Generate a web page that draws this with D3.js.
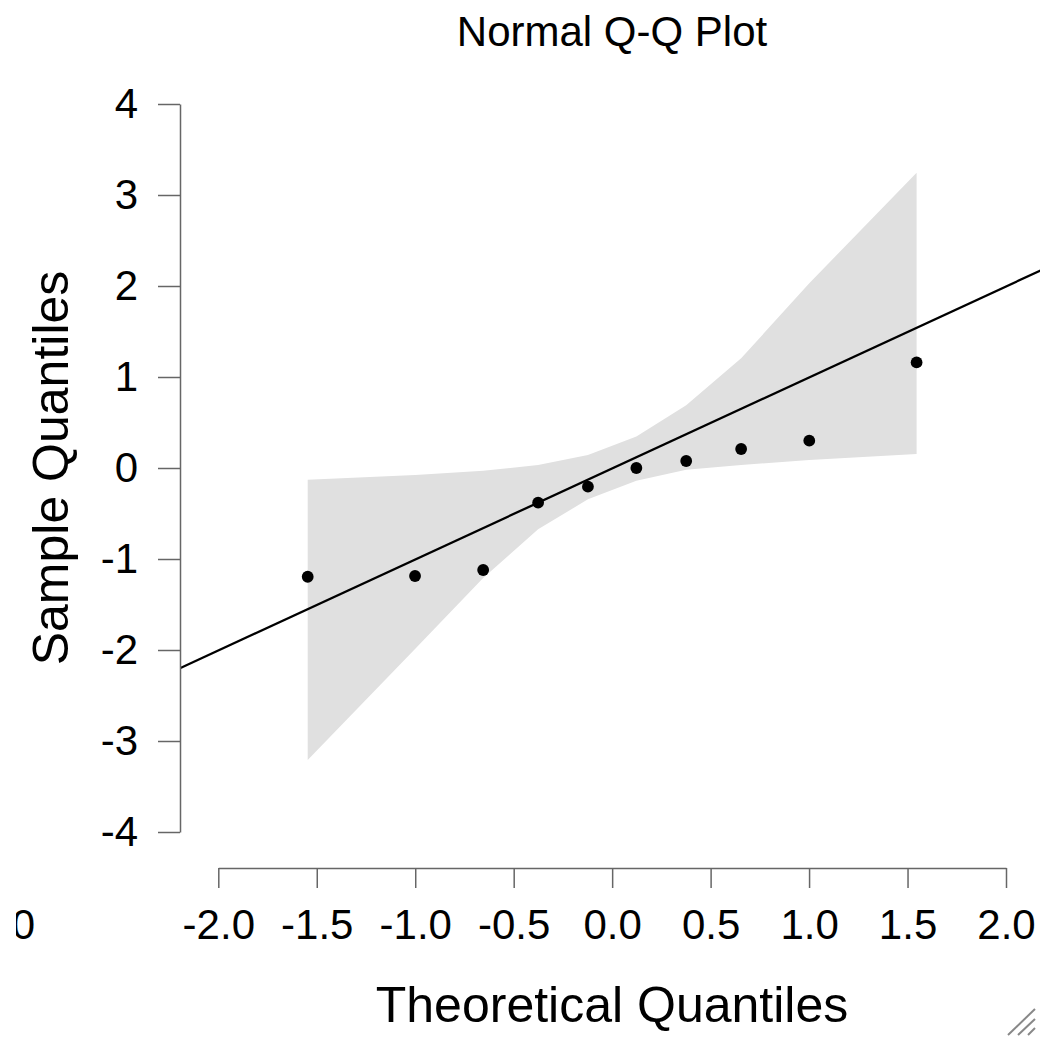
<!DOCTYPE html>
<meta charset="utf-8">
<script src="https://d3js.org/d3.v7.min.js"></script>
<style>
  body { margin: 0; background: #fff; }
  text { font-family: "Liberation Sans", Arial, Helvetica, sans-serif; }
</style>
<div id="my_dataviz"></div>
<script>

// theoretical quantiles (x) and sample quantiles (y)
var theoretical = [-1.546, -1.001, -0.655, -0.376, -0.123, 0.123, 0.376, 0.655, 1.001, 1.546];
var sample      = [-1.195, -1.187, -1.121, -0.381, -0.205, 0.0, 0.077, 0.209, 0.30, 1.16];

// confidence band around the reference line
var bandUpper = [-0.13, -0.077, -0.03, 0.033, 0.143, 0.345, 0.69, 1.205, 2.03, 3.245];
var bandLower = [-3.21, -1.99, -1.21, -0.674, -0.344, -0.14, -0.02, 0.033, 0.088, 0.154];

// reference line y = a + b*x
var lineIntercept = -0.005;
var lineSlope = 1.0;

var xTicks = [-2.0, -1.5, -1.0, -0.5, 0.0, 0.5, 1.0, 1.5, 2.0];
var yTicks = [-4, -3, -2, -1, 0, 1, 2, 3, 4];
var xDomainPlot = [-2.195, 2.2];   // x extent of plot region (line is clipped to it)

var width = 1040, height = 1037;

var svg = d3.select("#my_dataviz")
  .append("svg")
    .attr("width", width)
    .attr("height", height);

var x = d3.scaleLinear().domain([-2, 2]).range([218.3, 1006]);
var y = d3.scaleLinear().domain([-4, 4]).range([832, 104]);

// clip for the plot region
svg.append("clipPath").attr("id", "plotclip")
  .append("rect")
    .attr("x", x(xDomainPlot[0]))
    .attr("y", 60)
    .attr("width", x(xDomainPlot[1]) - x(xDomainPlot[0]))
    .attr("height", 800);

var plot = svg.append("g").attr("clip-path", "url(#plotclip)");

// band
var bandData = theoretical.map(function(t, i) { return {t: t, lo: bandLower[i], hi: bandUpper[i]}; });
plot.append("path")
  .datum(bandData)
  .attr("d", d3.area()
    .x(function(d) { return x(d.t) })
    .y0(function(d) { return y(d.lo) })
    .y1(function(d) { return y(d.hi) }))
  .style("fill", "#e0e0e0")
  .style("stroke", "none");

// reference line
plot.append("path")
  .datum(xDomainPlot)
  .attr("d", d3.line()
    .x(function(d) { return x(d) })
    .y(function(d) { return y(lineIntercept + lineSlope * d) }))
  .style("stroke", "#000")
  .style("stroke-width", 2.3)
  .style("fill", "none");

// points
plot.selectAll("circle.pt")
  .data(theoretical)
  .enter()
  .append("circle")
    .attr("class", "pt")
    .attr("cx", function(d) { return x(d) })
    .attr("cy", function(d, i) { return y(sample[i]) })
    .attr("r", 5.9)
    .style("fill", "#000");

// x axis
var xAxis = svg.append("g")
  .attr("transform", "translate(0,868)")
  .call(d3.axisBottom(x).tickValues(xTicks).tickFormat(function(d) { return d.toFixed(1) })
    .tickSize(20).tickSizeOuter(0).tickPadding(21));

// y axis
var yAxis = svg.append("g")
  .attr("transform", "translate(180,0)")
  .call(d3.axisLeft(y).tickValues(yTicks).tickFormat(function(d) { return String(d) })
    .tickSize(22).tickSizeOuter(0).tickPadding(20));

[xAxis, yAxis].forEach(function(a) {
  a.select(".domain").style("stroke", "#666").style("stroke-width", 1.5);
  a.selectAll(".tick line").style("stroke", "#666").style("stroke-width", 1.5);
  a.selectAll(".tick text")
    .style("font-size", "42px")
    .style("font-family", "'Liberation Sans', Arial, sans-serif")
    .style("fill", "#000");
});

// stray clipped label at the left edge
svg.append("clipPath").attr("id", "edgeclip")
  .append("rect").attr("x", 16).attr("y", 880).attr("width", 40).attr("height", 80);
svg.append("text")
  .attr("clip-path", "url(#edgeclip)")
  .attr("x", 35).attr("y", 939)
  .attr("text-anchor", "end")
  .style("font-size", "42px")
  .text("0");

// title and axis labels
svg.append("text")
  .attr("x", 612).attr("y", 46)
  .attr("text-anchor", "middle")
  .style("font-size", "42px")
  .text("Normal Q-Q Plot");

svg.append("text")
  .attr("x", 612).attr("y", 1022)
  .attr("text-anchor", "middle")
  .style("font-size", "50px")
  .text("Theoretical Quantiles");

svg.append("text")
  .attr("transform", "translate(68,468) rotate(-90)")
  .attr("text-anchor", "middle")
  .style("font-size", "50px")
  .text("Sample Quantiles");

// resize grip in the corner
[[1008, 1035, 1035, 1009], [1018, 1035, 1035, 1019], [1028, 1035, 1035, 1028]].forEach(function(s) {
  svg.append("line")
    .attr("x1", s[0]).attr("y1", s[1]).attr("x2", s[2]).attr("y2", s[3])
    .style("stroke", "#888").style("stroke-width", 2);
});

</script>
